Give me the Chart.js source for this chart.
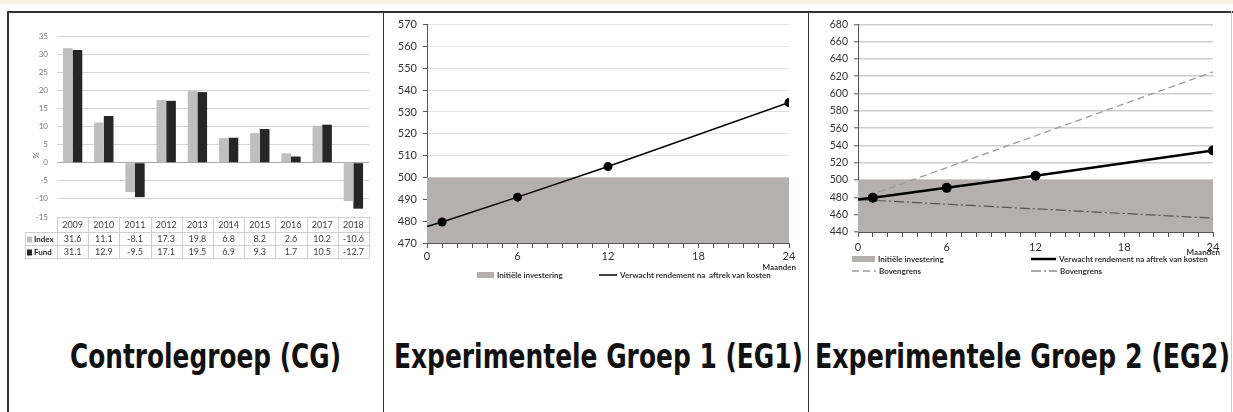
<!DOCTYPE html>
<html lang="nl">
<head>
<meta charset="UTF-8">
<title>Controlegroep en experimentele groepen</title>
<script src="https://cdn.jsdelivr.net/npm/chart.js"></script>
<style>
  html, body { margin: 0; padding: 0; background: #fff; }
  body { width: 1233px; height: 412px; position: relative; overflow: hidden; font-family: Lato, Arial, sans-serif; }
  .band { position: absolute; left: 0; top: 0; width: 1233px; height: 4px; background: #fbf2df; }
  .frame-top { position: absolute; left: 8px; top: 11px; width: 1225px; border-top: 2px solid #333; }
  .vline { position: absolute; top: 11px; bottom: 0; border-left: 1px solid #333; }
  .vline.first { border-left: 2px solid #333; }
  .vline.last { border-left: 1px solid #ccc; }
  .box { position: absolute; }
  .title { position: absolute; top: 336px; height: 42px; line-height: 42px; transform-origin: 0 50%;
           font-family: "DejaVu Sans Condensed", "Liberation Sans", sans-serif; font-weight: bold;
           font-size: 33px; color: #111; white-space: nowrap; }
</style>
</head>
<body>
<div class="band"></div>
<div class="frame-top"></div>
<div class="vline first" style="left:7px"></div>
<div class="vline" style="left:383px"></div>
<div class="vline" style="left:808px"></div>
<div class="vline last" style="left:1231px"></div>

<div class="box" style="left:9px; top:12px; width:374px; height:260px;"><canvas id="cgChart"></canvas></div>
<div class="box" style="left:384px; top:12px; width:423px; height:278px;"><canvas id="eg1Chart"></canvas></div>
<div class="box" style="left:809px; top:12px; width:422px; height:278px;"><canvas id="eg2Chart"></canvas></div>

<div class="title" data-left="70" data-width="271">Controlegroep (CG)</div>
<div class="title" data-left="394" data-width="409">Experimentele Groep 1 (EG1)</div>
<div class="title" data-left="815" data-width="415">Experimentele Groep 2 (EG2)</div>

<script>
// ---- data ----
const years = ['2009', '2010', '2011', '2012', '2013', '2014', '2015', '2016', '2017', '2018'];
const indexReturns = [31.6, 11.1, -8.1, 17.3, 19.8, 6.8, 8.2, 2.6, 10.2, -10.6];
const fundReturns = [31.1, 12.9, -9.5, 17.1, 19.5, 6.9, 9.3, 1.7, 10.5, -12.7];

const monthPoints = [0, 1, 6, 12, 24];
const expectedValue = [477.5, 479.6, 491, 505, 534.3];
const boundMonths = [0, 24];
const initialInvestment = [500, 500];
const upperBound = [477.5, 625];
const lowerBound = [477.5, 456];

const monthLabelStep = 6;

const pts = (xs, ys) => xs.map((x, i) => ({ x: x, y: ys[i] }));
const hideFirst = r => ctx => ctx.dataIndex === 0 ? 0 : r;

// squeeze the big panel captions to the condensed width of the original
document.querySelectorAll('.title').forEach(el => {
  const w = el.getBoundingClientRect().width;
  el.style.left = el.dataset.left + 'px';
  el.style.transform = 'scaleX(' + (el.dataset.width / w) + ')';
});

// ---- plugins ----
// data table under the bar chart, like the Excel chart
const dataTable = {
  id: 'dataTable',
  afterDraw(chart) {
    const { ctx, chartArea: a, scales: { x } } = chart;
    const rows = [a.bottom, a.bottom + 15, a.bottom + 28, a.bottom + 41];
    const labelLeft = a.left - 32;
    const n = chart.data.labels.length;
    const edges = [a.left];
    for (let i = 1; i < n; i++) edges.push((x.getPixelForValue(i - 1) + x.getPixelForValue(i)) / 2);
    edges.push(a.right);

    ctx.save();
    ctx.strokeStyle = '#cfcfcf';
    ctx.lineWidth = 1;
    ctx.beginPath();
    for (let r = 1; r < rows.length; r++) {
      ctx.moveTo(labelLeft, rows[r] + 0.5); ctx.lineTo(a.right, rows[r] + 0.5);
    }
    edges.forEach(e => { ctx.moveTo(Math.round(e) + 0.5, rows[0]); ctx.lineTo(Math.round(e) + 0.5, rows[3]); });
    ctx.moveTo(labelLeft + 0.5, rows[1]); ctx.lineTo(labelLeft + 0.5, rows[3]);
    ctx.stroke();

    ctx.fillStyle = '#404040';
    ctx.textAlign = 'center';
    ctx.textBaseline = 'middle';
    ctx.font = '9px Lato, sans-serif';
    chart.data.labels.forEach((lab, i) => {
      const cx = x.getPixelForValue(i);
      ctx.fillText(lab, cx, (rows[0] + rows[1]) / 2 + 1);
      chart.data.datasets.forEach((ds, d) => {
        ctx.fillText(String(ds.data[i]), cx, (rows[d + 1] + rows[d + 2]) / 2 + 1);
      });
    });

    ctx.textAlign = 'left';
    ctx.font = 'bold 8px Lato, sans-serif';
    chart.data.datasets.forEach((ds, d) => {
      const cy = (rows[d + 1] + rows[d + 2]) / 2 + 1;
      ctx.fillStyle = ds.backgroundColor;
      ctx.fillRect(labelLeft + 2, cy - 3, 5, 6);
      ctx.fillStyle = '#222';
      ctx.fillText(ds.label, labelLeft + 9, cy);
    });

    // unit label
    ctx.save();
    ctx.translate(a.left - 21, chart.scales.y.getPixelForValue(2));
    ctx.rotate(-Math.PI / 2);
    ctx.textAlign = 'center';
    ctx.font = '8px Lato, sans-serif';
    ctx.fillStyle = '#666';
    ctx.fillText('%', 0, 0);
    ctx.restore();
    ctx.restore();
  }
};

// legend rows and "Maanden" under the line charts
const panelLegend = {
  id: 'panelLegend',
  afterDraw(chart, args, opts) {
    const { ctx, chartArea: a, scales: { x } } = chart;
    ctx.save();
    ctx.font = 'bold 8px Lato, sans-serif';
    ctx.textBaseline = 'middle';
    opts.items.forEach(it => {
      const ds = chart.data.datasets[it.ds];
      const y = a.bottom + it.dy;
      const x0 = a.left + it.dx;
      if (it.box) {
        ctx.fillStyle = ds.backgroundColor;
        ctx.fillRect(x0, y - 3, it.len, 6);
      } else {
        ctx.strokeStyle = ds.borderColor;
        ctx.lineWidth = ds.borderWidth;
        ctx.setLineDash(ds.borderDash || []);
        ctx.beginPath(); ctx.moveTo(x0, y); ctx.lineTo(x0 + it.len, y); ctx.stroke();
        ctx.setLineDash([]);
      }
      ctx.fillStyle = '#333';
      ctx.textAlign = 'left';
      ctx.fillText(ds.label, x0 + it.len + 3, y);
    });
    ctx.textAlign = 'right';
    ctx.fillStyle = '#333';
    ctx.fillText('Maanden', x.getPixelForValue(x.max) + 7, a.bottom + opts.unitDy);
    ctx.restore();
  }
};

// ---- Controlegroep: bar chart ----
new Chart(document.getElementById('cgChart'), {
  type: 'bar',
  data: {
    labels: years,
    datasets: [
      { label: 'Index', data: indexReturns, backgroundColor: '#bfbfbf', borderWidth: 0 },
      { label: 'Fund', data: fundReturns, backgroundColor: '#262626', borderWidth: 0 }
    ]
  },
  options: {
    responsive: true, maintainAspectRatio: false, animation: false,
    layout: { padding: { top: 24, right: 14, bottom: 55, left: 0 } },
    datasets: { bar: { barPercentage: 1, categoryPercentage: 0.62 } },
    plugins: { legend: { display: false }, tooltip: { enabled: false } },
    scales: {
      x: { display: false },
      y: {
        min: -15, max: 35,
        afterFit(s) { s.width = 48; },
        border: { display: false },
        grid: { color: c => c.tick.value === 0 ? '#a8a8a8' : '#d4d4d4', drawTicks: false },
        ticks: { stepSize: 5, padding: 9, color: '#777', font: { family: 'Lato', size: 8 } }
      }
    }
  },
  plugins: [dataTable]
});

// ---- shared options for the two line charts ----
function lineOptions(cfg) {
  return {
    responsive: true, maintainAspectRatio: false, animation: false,
    layout: { padding: { top: cfg.top, right: cfg.right, bottom: 0, left: 0 } },
    plugins: { legend: { display: false }, tooltip: { enabled: false }, panelLegend: cfg.legend },
    scales: {
      x: {
        type: 'linear', min: 0, max: 24,
        afterFit(s) { s.height = cfg.xHeight; },
        border: { color: '#555', width: 1 },
        grid: { drawOnChartArea: false, color: '#555', tickLength: 5 },
        ticks: {
          stepSize: 1, autoSkip: false, maxRotation: 0, padding: cfg.xPad, color: '#333',
          font: { family: 'Lato', size: 11 },
          callback: v => v % monthLabelStep === 0 ? v : ''
        }
      },
      y: {
        min: cfg.yMin, max: cfg.yMax,
        afterFit(s) { s.width = cfg.yWidth; },
        border: { color: '#555', width: 1 },
        grid: { color: cfg.gridColor, lineWidth: cfg.gridWidth, tickLength: 4,
                tickColor: '#555', tickWidth: 1 },
        ticks: { stepSize: cfg.yStep, padding: 6, color: '#333', font: { family: 'Lato', size: cfg.yFont } }
      }
    }
  };
}

// ---- Experimentele Groep 1 ----
new Chart(document.getElementById('eg1Chart'), {
  type: 'line',
  data: {
    datasets: [
      { label: 'Verwacht rendement na  aftrek van kosten', data: pts(monthPoints, expectedValue),
        borderColor: '#000', backgroundColor: '#000', borderWidth: 1.5,
        pointRadius: hideFirst(4.5), pointBackgroundColor: '#000', pointBorderWidth: 0, tension: 0 },
      { label: 'Initiële investering', data: pts(boundMonths, initialInvestment),
        borderWidth: 0, borderColor: 'rgba(0,0,0,0)', backgroundColor: '#b5afaf', fill: 'start', pointRadius: 0 }
    ]
  },
  options: lineOptions({
    top: 11, right: 18, xHeight: 47, xPad: 2, yWidth: 43, yMin: 470, yMax: 570, yStep: 10,
    gridColor: '#e2e2e2', gridWidth: 1, yFont: 11,
    legend: { unitDy: 24, items: [
      { ds: 1, box: true, dx: 50, dy: 32, len: 17 },
      { ds: 0, dx: 172, dy: 32, len: 18 }
    ] }
  }),
  plugins: [panelLegend]
});

// ---- Experimentele Groep 2 ----
new Chart(document.getElementById('eg2Chart'), {
  type: 'line',
  data: {
    datasets: [
      { label: 'Verwacht rendement na aftrek van kosten', data: pts(monthPoints, expectedValue),
        borderColor: '#000', backgroundColor: '#000', borderWidth: 2.5,
        pointRadius: hideFirst(5), pointBackgroundColor: '#000', pointBorderWidth: 0, tension: 0 },
      { label: 'Bovengrens', data: pts(boundMonths, upperBound),
        borderColor: '#9a9a9a', borderWidth: 1.3, borderDash: [7, 4], pointRadius: 0 },
      { label: 'Bovengrens', data: pts(boundMonths, lowerBound),
        borderColor: '#555', borderWidth: 1.2, borderDash: [10, 3, 2, 3], pointRadius: 0 },
      { label: 'Initiële investering', data: pts(boundMonths, initialInvestment),
        borderWidth: 0, borderColor: 'rgba(0,0,0,0)', backgroundColor: '#b5afaf', fill: 'start', pointRadius: 0 }
    ]
  },
  options: lineOptions({
    top: 7, right: 18, xHeight: 58, xPad: 4, yWidth: 49, yMin: 440, yMax: 680, yStep: 20,
    gridColor: '#cdcdcd', gridWidth: 1.6, yFont: 10.5,
    legend: { unitDy: 20, items: [
      { ds: 3, box: true, dx: -6, dy: 27, len: 23 },
      { ds: 0, dx: 173, dy: 27, len: 25 },
      { ds: 1, dx: -6, dy: 39, len: 24 },
      { ds: 2, dx: 173, dy: 39, len: 26 }
    ] }
  }),
  plugins: [panelLegend]
});
</script>
</body>
</html>
